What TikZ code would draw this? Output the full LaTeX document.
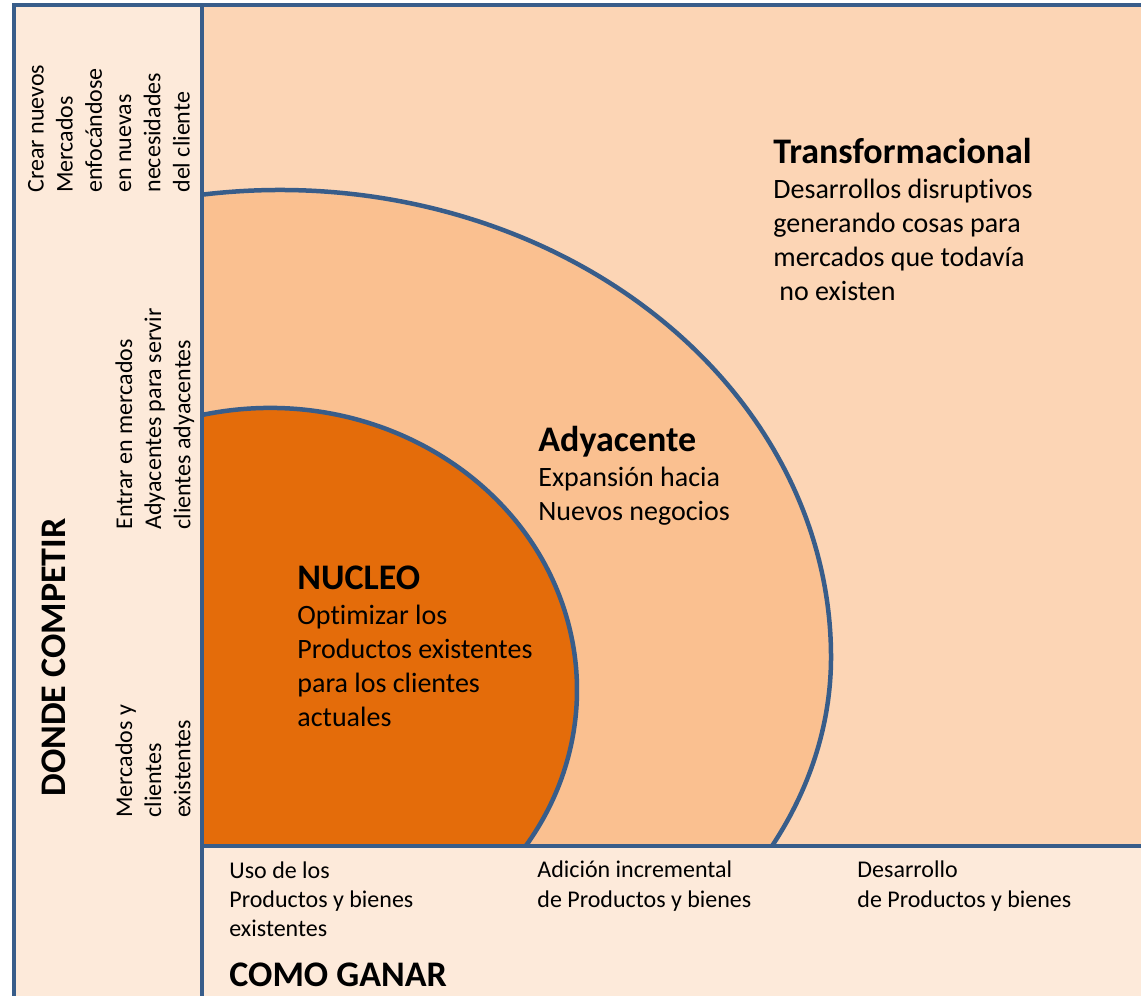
\documentclass[tikz,border=0pt]{standalone}
\usepackage{fontspec}
\setmainfont{Carlito}[Ligatures=NoCommon]
\definecolor{frameblue}{HTML}{385D8A}
\definecolor{peachpale}{HTML}{FDEADA}
\definecolor{peachlight}{HTML}{FCD5B5}
\definecolor{peachmid}{HTML}{FAC090}
\definecolor{orangedeep}{HTML}{E46C0A}
\tikzset{
  frameline/.style={draw=frameblue, line width=2.25pt},
  headtxt/.style={font=\fontsize{18}{21}\selectfont\bfseries, inner sep=0pt, anchor=base west},
  bodytxt/.style={font=\fontsize{14}{17}\selectfont, inner sep=0pt, anchor=base west, align=left},
  smalltxt/.style={font=\fontsize{12}{14.6}\selectfont, inner sep=0pt, anchor=base west, align=left},
}
\begin{document}
\begin{tikzpicture}[x=0.5pt, y=0.5pt]
		%%%%% FRAME %%%%%
		\useasboundingbox (0, 0) rectangle (1141, 996);
		\begin{scope}
		\clip (0, 0) rectangle (1141, 996);
		\draw[frameline, fill=peachpale] (14, -20) rectangle (1160, 991);
		\draw[frameline, fill=peachlight] (202, 150) rectangle (1160, 991);
		
		% adyacente
		\fill[peachmid] (202, 150) -- (202, 801.3) arc[start angle=98.14, end angle=0, x radius=551, y radius=467]
			arc[start angle=0, end angle=-26.7, x radius=551, y radius=420] -- cycle;
		\draw[frameline] (202, 801.3) arc[start angle=98.14, end angle=0, x radius=551, y radius=467]
			arc[start angle=0, end angle=-26.7, x radius=551, y radius=420];
		
		% nucleo
		\fill[orangedeep] (202, 150) -- (202, 581) arc[start angle=102.8, end angle=-33.6, x radius=307, y radius=282] -- cycle;
		\draw[frameline] (202, 581) arc[start angle=102.8, end angle=-33.6, x radius=307, y radius=282];
		
		\draw[frameline] (202, -20) -- (202, 991);
		\draw[frameline] (202, 150) -- (1160, 150);
		\end{scope}
		
		%%%%% TEXT %%%%%
		% multi-line nodes sit on their last line
		\node[headtxt] (trans) at (773, 832) {Transformacional};
		\node[bodytxt] (transtxt) at (773, 695) {Desarrollos disruptivos\\generando cosas para\\mercados que todavía\\\hspace{3pt}no existen};
		
		\node[headtxt] (adya) at (538, 544) {Adyacente};
		\node[bodytxt] (adyatxt) at (538, 475) {Expansión hacia\\Nuevos negocios};
		
		\node[headtxt] (nucleo) at (297, 406) {NUCLEO};
		\node[bodytxt] (nucleotxt) at (297, 269) {Optimizar los\\Productos existentes\\para los clientes\\actuales};
		
		\node[smalltxt] (usar) at (229, 59.6) {Uso de los\\Productos y bienes\\existentes};
		\node[smalltxt] (sumar) at (537, 88.8) {Adición incremental\\de Productos y bienes};
		\node[smalltxt] (crear) at (857, 88.8) {Desarrollo\\de Productos y bienes};
		\node[headtxt] (ganar) at (229, 9) {COMO GANAR};
		
		\node[headtxt, rotate=90] (competir) at (65, 199) {DONDE COMPETIR};
		\node[smalltxt, rotate=90] (nuevos) at (189.5, 803) {Crear nuevos\\Mercados\\enfocándose\\en nuevas\\necesidades\\del cliente};
		\node[smalltxt, rotate=90] (entrar) at (190.4, 466) {Entrar en mercados\\Adyacentes para servir\\clientes adyacentes};
		\node[smalltxt, rotate=90] (existen) at (190.4, 178) {Mercados y\\clientes\\existentes};
		%%%%% END %%%%%
\end{tikzpicture}
\end{document}
